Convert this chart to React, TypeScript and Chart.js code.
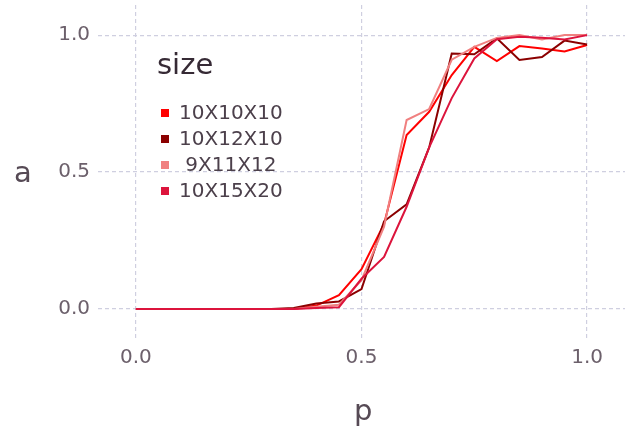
import React, { useEffect, useRef } from "react";
import { Chart, registerables } from "chart.js";

Chart.register(...registerables);

const pValues = [0, 0.05, 0.1, 0.15, 0.2, 0.25, 0.3, 0.35, 0.4, 0.45, 0.5, 0.55, 0.6, 0.65, 0.7, 0.75, 0.8, 0.85, 0.9, 0.95, 1.0];
const size10x10x10 = [0, 0, 0, 0, 0, 0, 0, 0, 0.012, 0.05, 0.145, 0.31, 0.635, 0.72, 0.854, 0.957, 0.905, 0.96, 0.951, 0.94, 0.964];
const size10x12x10 = [0, 0, 0, 0, 0, 0, 0, 0.003, 0.02, 0.027, 0.072, 0.32, 0.382, 0.59, 0.933, 0.93, 0.988, 0.909, 0.92, 0.98, 0.966];
const size9x11x12 = [0, 0, 0, 0, 0, 0, 0, 0, 0.008, 0.015, 0.105, 0.3, 0.69, 0.73, 0.91, 0.957, 0.99, 1.0, 0.984, 1.0, 1.0];
const size10x15x20 = [0, 0, 0, 0, 0, 0, 0, 0, 0.003, 0.006, 0.11, 0.19, 0.373, 0.59, 0.77, 0.915, 0.985, 0.994, 0.99, 0.984, 1.0];

const seriesNames = ["10X10X10", "10X12X10", " 9X11X12", "10X15X20"];
const seriesColors = ["#FF0000", "#8B0000", "#F08080", "#DC143C"];
const seriesValues = [size10x10x10, size10x12x10, size9x11x12, size10x15x20];
const seriesOrder = [3, 2, 1, 0];

const xTicks = [0, 0.5, 1.0];
const yTicks = [0, 0.5, 1.0];

const FONT = "'DejaVu Sans', sans-serif";

export default function App() {
  const canvasRef = useRef<HTMLCanvasElement | null>(null);

  useEffect(() => {
    const canvas = canvasRef.current;
    if (!canvas) return;
    const chart = new Chart(canvas, {
      type: "line",
      data: {
        datasets: seriesNames.map((name, i) => ({
          label: name,
          data: pValues.map((p, j) => ({ x: p, y: seriesValues[i][j] })),
          borderColor: seriesColors[i],
          backgroundColor: seriesColors[i],
          borderWidth: 2,
          pointRadius: 0,
          tension: 0,
          fill: false,
          order: seriesOrder[i],
        })),
      },
      options: {
        animation: false,
        responsive: false,
        layout: { padding: { top: 5, right: 8, left: 0, bottom: 0 } },
        plugins: { legend: { display: false }, tooltip: { enabled: false } },
        scales: {
          x: {
            type: "linear",
            min: -0.084,
            max: 1.084,
            afterBuildTicks: (scale: any) => {
              scale.ticks = xTicks.map((v) => ({ value: v }));
            },
            afterFit: (scale: any) => {
              scale.height = 92;
              scale.paddingLeft = 0;
              scale.paddingRight = 0;
            },
            grid: { color: "#CFCFE0", lineWidth: 1.2, drawTicks: false },
            border: { display: false, dash: [4, 3] },
            ticks: {
              padding: 7,
              color: "#6c606b",
              font: { family: FONT, size: 20 },
              maxRotation: 0,
              callback: (v: any) => Number(v).toFixed(1),
            },
          },
          y: {
            type: "linear",
            min: -0.11,
            max: 1.11,
            afterBuildTicks: (scale: any) => {
              scale.ticks = yTicks.map((v) => ({ value: v }));
            },
            afterFit: (scale: any) => {
              scale.width = 98;
              scale.paddingTop = 0;
              scale.paddingBottom = 0;
            },
            grid: { color: "#CFCFE0", lineWidth: 1.2, drawTicks: false },
            border: { display: false, dash: [4, 3] },
            ticks: {
              padding: 8,
              color: "#6c606b",
              font: { family: FONT, size: 20 },
              callback: (v: any) => Number(v).toFixed(1),
            },
          },
        },
      },
    } as any);
    return () => chart.destroy();
  }, []);

  const textBase: React.CSSProperties = {
    position: "absolute",
    fontFamily: FONT,
    lineHeight: 1,
    whiteSpace: "pre",
    margin: 0,
  };

  return (
    <div style={{ position: "absolute", left: 0, top: 0, width: 633, height: 431, background: "#fff" }}>
      <canvas ref={canvasRef} width={633} height={431} style={{ position: "absolute", left: 0, top: 0, width: 633, height: 431 }} />
      <div style={{ ...textBase, left: 14, top: 158, fontSize: 29, color: "#564a55" }}>a</div>
      <div style={{ ...textBase, left: 354, top: 396, fontSize: 29, color: "#564a55" }}>p</div>
      <div style={{ ...textBase, left: 157, top: 50, fontSize: 29, color: "#362a35" }}>size</div>
      {seriesNames.map((name, i) => (
        <React.Fragment key={name}>
          <div
            style={{
              position: "absolute",
              left: 161,
              top: 109 + i * 26,
              width: 8,
              height: 8,
              background: seriesColors[i],
            }}
          />
          <div style={{ ...textBase, left: 179, top: 102 + i * 26, fontSize: 20, color: "#4c404b" }}>{name}</div>
        </React.Fragment>
      ))}
    </div>
  );
}
